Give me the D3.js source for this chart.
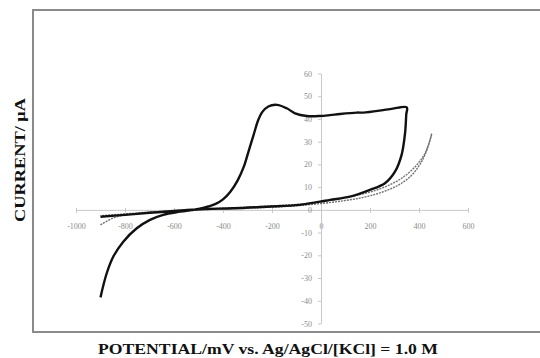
<!DOCTYPE html>
<html>
<head>
<meta charset="utf-8">
<script src="https://cdn.jsdelivr.net/npm/d3@7"></script>
<style>
  html, body { margin: 0; padding: 0; background: #fff; }
  svg { display: block; }
</style>
</head>
<body>
<div id="chart"></div>
<script>
// tick values
const xTicks = [-1000, -800, -600, -400, -200, 0, 200, 400, 600];
const yTicks = [-50, -40, -30, -20, -10, 0, 10, 20, 30, 40, 50, 60];

// solid CV loop (mV, µA)
const solidX = [-900, -875, -848, -807, -752, -698, -644, -576, -500, -460, -430, -400, -370, -340, -315, -295, -275, -258, -240, -215, -180, -140, -106, -58, -4, 37, 78, 146, 173, 282, 350,
  348, 343, 329, 302, 261, 200, 118, 37, -4, -86, -222, -358, -494, -600, -700, -800, -900];
const solidY = [-38.5, -28, -20.6, -14, -8.1, -4.4, -2.2, -0.8, 0.4, 1.5, 2.6, 4.6, 8, 13, 19, 26, 33, 39, 43, 45.5, 46.2, 44.7, 42.5, 41.3, 41.3, 41.7, 42.2, 42.8, 42.8, 44.3, 45.1,
  42, 33.7, 24.2, 16.8, 11.7, 8.8, 5.8, 4.4, 3.6, 2.2, 1.4, 0.7, 0.3, -0.5, -1.3, -2.2, -3];

// dotted scan, forward and return
const dotFwdX = [-900, -848, -800, -700, -600, -500, -400, -300, -200, -100, 0, 91, 173, 241, 309, 363, 404, 431, 452];
const dotFwdY = [-6.6, -3.6, -2.2, -1.2, -0.5, 0, 0.4, 0.8, 1.2, 1.8, 2.8, 4, 5.5, 7.5, 10.5, 14.5, 20, 26, 33.5];
const dotRevX = [452, 440, 420, 380, 330, 280, 220, 150, 80, 0, -100, -300, -500, -700, -900];
const dotRevY = [33.5, 29, 24, 18.5, 14, 11, 8.5, 6.5, 5, 3.6, 2.4, 1.2, 0.2, -1, -2.6];

const width = 540, height = 358;

const svg = d3.select('#chart').append('svg')
  .attr('width', width)
  .attr('height', height);

// frame (runs off the right edge)
svg.append('rect')
  .attr('x', 33).attr('y', 10)
  .attr('width', 520).attr('height', 322)
  .attr('fill', 'none')
  .attr('stroke', '#8a8a8a')
  .attr('stroke-width', 2);

const x = d3.scaleLinear().domain([-1000, 600]).range([76, 468]);
const y = d3.scaleLinear().domain([-50, 60]).range([323.5, 73.5]);

const tickFont = 'Liberation Serif, serif';
const fmt = d => String(d);

// X axis through y = 0
svg.append('g')
  .attr('transform', `translate(0,${y(0)})`)
  .call(d3.axisBottom(x).tickValues(xTicks).tickFormat(fmt).tickSizeInner(3).tickSizeOuter(0).tickPadding(10))
  .call(g => g.select('.domain').attr('stroke', '#c8c8c8'))
  .call(g => g.selectAll('.tick line').attr('stroke', '#c8c8c8').attr('y1', -2))
  .call(g => g.selectAll('.tick text').attr('fill', '#8c8c8c')
    .style('font-family', tickFont).style('font-size', '8px'));

// Y axis through x = 0
svg.append('g')
  .attr('transform', `translate(${x(0)},0)`)
  .call(d3.axisLeft(y).tickValues(yTicks).tickFormat(fmt).tickSizeInner(3).tickSizeOuter(0).tickPadding(6))
  .call(g => g.select('.domain').attr('stroke', '#c8c8c8'))
  .call(g => g.selectAll('.tick line').attr('stroke', '#c8c8c8'))
  .call(g => g.selectAll('.tick text').attr('fill', '#8c8c8c')
    .style('font-family', tickFont).style('font-size', '8px'));

const line = d3.line()
  .x(d => x(d[0]))
  .y(d => y(d[1]))
  .curve(d3.curveCatmullRom.alpha(0.5));

const dotFwd = d3.zip(dotFwdX, dotFwdY);
const dotRev = d3.zip(dotRevX, dotRevY);
const solid = d3.zip(solidX, solidY);

[dotFwd, dotRev].forEach(pts => {
  svg.append('path')
    .datum(pts)
    .attr('d', line)
    .attr('fill', 'none')
    .attr('stroke', '#707070')
    .attr('stroke-width', 1.4)
    .attr('stroke-dasharray', '2,1');
});

svg.append('path')
  .datum(solid)
  .attr('d', line)
  .attr('fill', 'none')
  .attr('stroke', '#111')
  .attr('stroke-width', 2.4)
  .attr('stroke-linejoin', 'round');

// axis titles
svg.append('text')
  .attr('x', 268).attr('y', 354)
  .attr('text-anchor', 'middle')
  .attr('textLength', 340)
  .attr('lengthAdjust', 'spacingAndGlyphs')
  .style('font-family', 'Liberation Serif, serif')
  .style('font-weight', 'bold')
  .style('font-size', '15px')
  .attr('fill', '#111')
  .text('POTENTIAL/mV vs. Ag/AgCl/[KCl] = 1.0 M');

svg.append('text')
  .attr('transform', 'translate(25,160) rotate(-90)')
  .attr('text-anchor', 'middle')
  .attr('textLength', 124)
  .attr('lengthAdjust', 'spacingAndGlyphs')
  .style('font-family', 'Liberation Serif, serif')
  .style('font-weight', 'bold')
  .style('font-size', '15px')
  .attr('fill', '#111')
  .text('CURRENT/ μA');
</script>
</body>
</html>
